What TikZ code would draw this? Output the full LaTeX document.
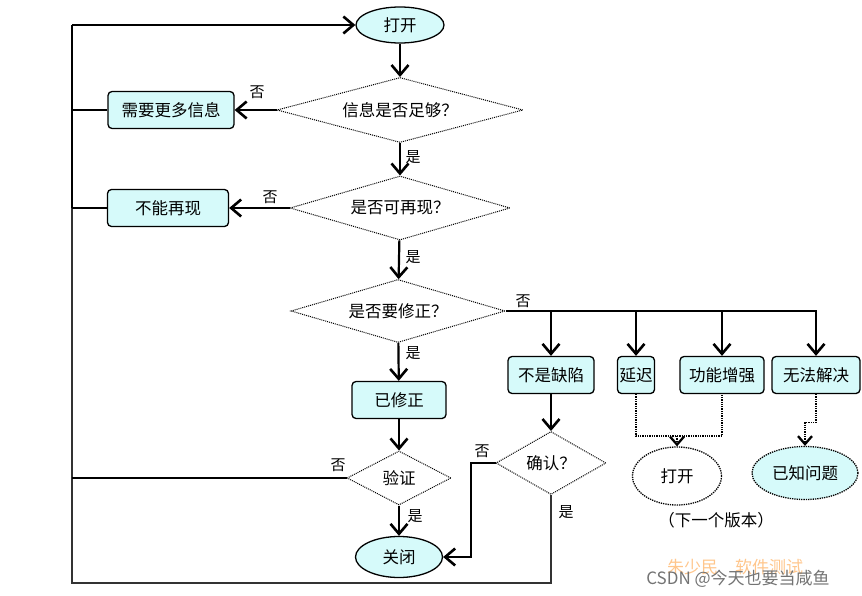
\documentclass[tikz,border=0pt]{standalone}
\usepackage{fontspec}
\setmainfont{Noto Sans CJK SC}
\usetikzlibrary{shapes.geometric,arrows.meta}
\definecolor{boxfill}{HTML}{D6FAFA}
\begin{document}
\begin{tikzpicture}[x=1pt,y=-1pt, font=\fontsize{16.5}{18}\selectfont,
 box/.style={draw, rounded corners=4pt, line width=1.3pt, fill=boxfill, inner sep=0pt, align=center},
 dia/.style={diamond, draw, densely dotted, line width=1pt, fill=white, inner sep=0pt},
 ell/.style={ellipse, draw, line width=1.3pt, fill=boxfill, inner sep=0pt},
 arr/.style={line width=2.2pt, -{Straight Barb[length=10pt,width=17pt,line width=2.6pt]}},
 arrt/.style={line width=1.5pt, -{Straight Barb[length=10pt,width=17pt,line width=2.6pt]}},
 ln/.style={line width=1.5pt},
 dots/.style={densely dotted, line width=1.3pt},
 dotarr/.style={densely dotted, line width=1.3pt, -{Straight Barb[length=8pt,width=14pt,line width=2.3pt]}},
 lbl/.style={font=\fontsize{15}{17}\selectfont}]
\useasboundingbox (0,0) rectangle (862,596);
% nodes
\node[ell, minimum width=88pt, minimum height=36pt] (open) at (400,25) {打开};
\node[dia, shape aspect=3.8, minimum width=246pt, minimum height=65pt] (q1) at (400,110) {信息是否足够？};
\node[box, minimum width=126pt, minimum height=37pt] (more) at (171,110) {需要更多信息};
\node[dia, shape aspect=3.4, minimum width=220pt, minimum height=64pt] (q2) at (400,208) {是否可再现？};
\node[box, minimum width=121pt, minimum height=37pt] (norep) at (168,208) {不能再现};
\node[dia, shape aspect=3.4, minimum width=214pt, minimum height=63pt] (q3) at (398,311) {是否要修正？};
\node[box, minimum width=94pt, minimum height=37pt] (fixed) at (399,400) {已修正};
\node[dia, shape aspect=1.9, minimum width=104pt, minimum height=54pt] (ver) at (399,478) {验证};
\node[ell, minimum width=87pt, minimum height=41pt] (close) at (399,557) {关闭};
\node[box, minimum width=86pt, minimum height=37pt] (notbug) at (551,375) {不是缺陷};
\node[box, minimum width=37pt, minimum height=37pt] (delay) at (636,375) {延迟};
\node[box, minimum width=84pt, minimum height=37pt] (enh) at (722,375) {功能增强};
\node[box, minimum width=88pt, minimum height=37pt] (wont) at (816,375) {无法解决};
\node[dia, shape aspect=1.75, minimum width=110pt, minimum height=63pt] (conf) at (551,463) {确认？};
\node[ellipse, draw, densely dotted, line width=1.3pt, fill=white, minimum width=89pt, minimum height=58pt, inner sep=0pt] (reopen) at (677,476) {打开};
\node[ellipse, draw, densely dotted, line width=1.3pt, fill=boxfill, minimum width=106pt, minimum height=53pt, inner sep=0pt] (known) at (805,473) {已知问题};
\node (next) at (716,520) {（下一个版本）};
% coordinates
\coordinate (lt) at (72,25);
\coordinate (lm) at (72,208);
\coordinate (lb) at (72,583);
\coordinate (br) at (817,311);
\coordinate (cw) at (471,463);
\coordinate (dm) at (677,436);
% main flow
\draw[arr] (open) -- (q1);
\draw[arr] (q1) -- (q2);
\draw[arr] (q2) -- (q3);
\draw[arr] (q3) -- (fixed);
\draw[arr] (fixed) -- (ver);
\draw[arr] (ver) -- (close);
\draw[arrt] (q1.west) -- (more.east);
\draw[arrt] (q2.west) -- (norep.east);
% left return line
\draw[line width=2.5pt] (lm) -- (lt);
\draw[arr] (lt) -- (open.west);
\draw[ln, black!80] (conf.south) |- (lb) -- (lm);
\draw[ln] (more.west) -- (more.west -| lt);
\draw[ln] (norep.west) -- (norep.west -| lt);
\draw[ln] (ver.west) -- (ver.west -| lt);
% branches
\draw[ln] (q3.east) -- (br);
\draw[arrt] (notbug |- br) -- (notbug.north);
\draw[arrt] (delay |- br) -- (delay.north);
\draw[arrt] (enh |- br) -- (enh.north);
\draw[arrt] (wont |- br) -- (wont.north);
\draw[arr] (notbug) -- (conf);
\draw[arrt] (conf.west) -- (cw) |- (close.east);
% dotted
\draw[dots] (delay.south) |- (dm) -| (enh.south);
\draw[dotarr] (dm) -- (reopen.north);
\draw[dotarr] (wont.south) -- ++(0,28) -| (known.north);
% labels
\node[lbl] at (257,92) {否};
\node[lbl] at (270,197) {否};
\node[lbl] at (413,157) {是};
\node[lbl] at (413,257) {是};
\node[lbl] at (523,301) {否};
\node[lbl] at (413,353) {是};
\node[lbl] at (338,465) {否};
\node[lbl] at (415,516) {是};
\node[lbl] at (482,451) {否};
\node[lbl] at (566,512) {是};
% watermarks
\node[text=orange!45, font=\fontsize{17}{19}\selectfont] at (735,567) {朱少民\quad 软件测试};
\node[text=black!55, font=\fontsize{17}{19}\selectfont] at (738,579) {CSDN @今天也要当咸鱼};
\end{tikzpicture}
\end{document}
